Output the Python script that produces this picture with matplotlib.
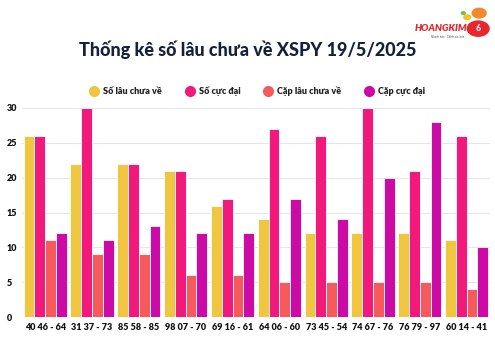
import matplotlib
matplotlib.use("Agg")
import matplotlib.pyplot as plt
import numpy as np
from matplotlib.patches import Circle
from matplotlib.lines import Line2D

categories = ["40 46 - 64", "31 37 - 73", "85 58 - 85", "98 07 - 70", "69 16 - 61",
              "64 06 - 60", "73 45 - 54", "74 67 - 76", "76 79 - 97", "60 14 - 41"]
so_lau = [26, 22, 22, 21, 16, 14, 12, 12, 12, 11]
so_cuc_dai = [26, 30, 22, 21, 17, 27, 26, 30, 21, 26]
cap_lau = [11, 9, 9, 6, 6, 5, 5, 5, 5, 4]
cap_cuc_dai = [12, 11, 13, 12, 12, 17, 14, 20, 28, 10]
series_names = ["Số lâu chưa về", "Số cực đại", "Cặp lâu chưa về", "Cặp cực đại"]
colors = ["#F0C53F", "#F2197C", "#F65A5A", "#CC0AA6"]

plt.rcParams['font.family'] = ['Lato', 'DejaVu Sans']

fig = plt.figure(figsize=(4.95, 3.45), dpi=100)
ax = fig.add_axes([0.044, 0.081, 0.946, 0.606])

x = np.arange(len(categories))
w = 0.23
series = [so_lau, so_cuc_dai, cap_lau, cap_cuc_dai]
for i, (vals, c, name) in enumerate(zip(series, colors, series_names)):
    ax.bar(x + (i - 1.5) * w, vals, width=w, color=c, edgecolor="white",
           linewidth=0.6, label=name, zorder=3)

ax.set_xlim(-0.5, len(categories) - 0.5)
ax.set_ylim(0, 30)
ax.set_yticks(range(0, 31, 5))
ax.set_xticks(x)
ax.set_xticklabels(categories, fontsize=6.5, fontweight='heavy', color='#111111')
ax.tick_params(axis='y', labelsize=6.5, colors='#111111', length=0, pad=11)
ax.tick_params(axis='x', length=0, pad=4)
for lab in ax.get_yticklabels():
    lab.set_fontweight('heavy')
    lab.set_horizontalalignment('left')
ax.grid(axis='y', color='#e6e6e6', linewidth=0.8, zorder=0)
for s in ax.spines.values():
    s.set_visible(False)

fig.text(0.5, 0.855, "Thống kê số lâu chưa về XSPY 19/5/2025", ha='center', va='center',
         fontsize=13, fontweight='black', color='#14213D')

handles = [Line2D([], [], marker='o', linestyle='none', markersize=7,
                  markerfacecolor=c, markeredgecolor=c) for c in colors]
leg = fig.legend(handles, series_names, loc='center', bbox_to_anchor=(0.52, 0.735),
                 ncol=4, frameon=False, fontsize=6.5, handlelength=1.0,
                 columnspacing=2.6, handletextpad=0.5)
for t in leg.get_texts():
    t.set_fontweight('heavy')
    t.set_color('#222222')

# logo
fig.text(0.945, 0.918, "HOANGKIM", ha='right', va='center', fontsize=7,
         fontweight='heavy', style='italic', color='#E8262D')
fig.add_artist(Circle((0.966, 0.917), 0.022, transform=fig.transFigure,
                      color='#E8262D', zorder=5))
fig.text(0.966, 0.917, "6", ha='center', va='center', fontsize=6.5, fontweight='bold',
         color='white', zorder=6)
fig.add_artist(Circle((0.968, 0.962), 0.014, transform=fig.transFigure, color='#F08A2C'))
fig.add_artist(Circle((0.944, 0.950), 0.007, transform=fig.transFigure, color='#F4C430'))
fig.add_artist(Circle((0.936, 0.962), 0.004, transform=fig.transFigure, color='#7DBE3C'))
fig.text(0.905, 0.893, "Nhanh hơn - Chính xác hơn", ha='center', va='center',
         fontsize=2, color='#555555')

fig.savefig("out.png", dpi=100)
